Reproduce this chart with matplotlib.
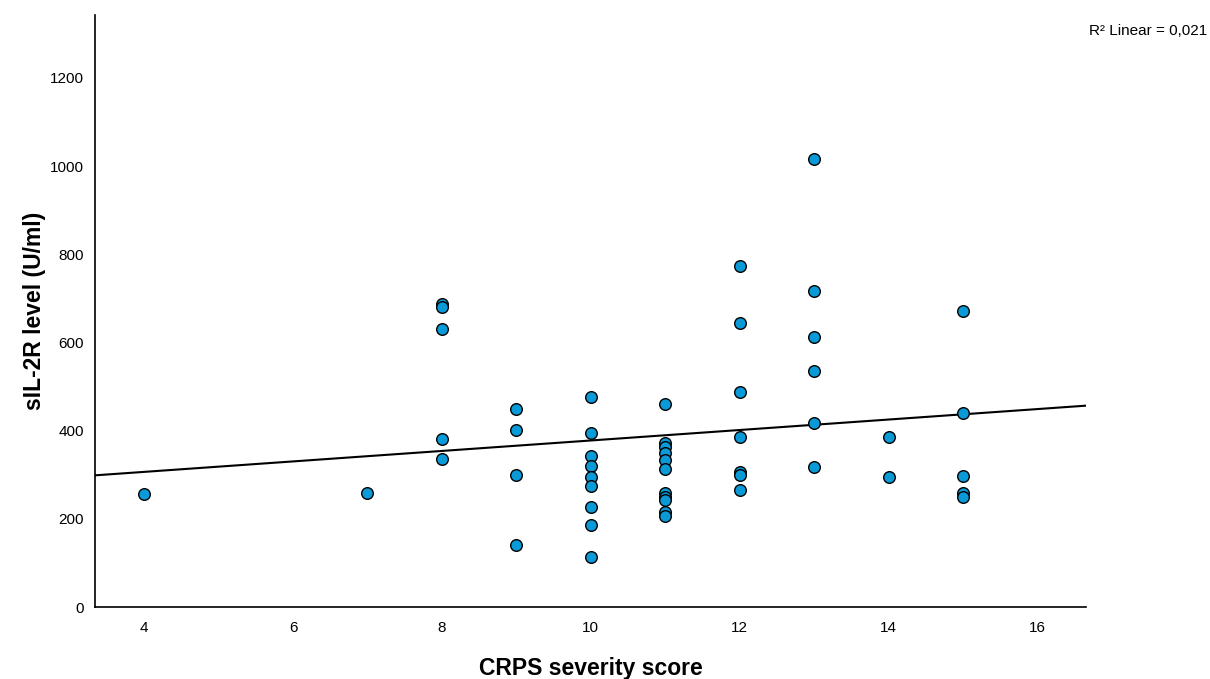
import numpy as np
import matplotlib
matplotlib.use('Agg')
import matplotlib.pyplot as plt

plt.rcParams['font.family'] = ['Liberation Sans', 'DejaVu Sans']

# CRPS severity score vs sIL-2R level
crps = [4, 7,
        8, 8, 8, 8, 8,
        9, 9, 9, 9,
        10, 10, 10, 10, 10, 10, 10, 10, 10,
        11, 11, 11, 11, 11, 11, 11, 11, 11, 11, 11,
        12, 12, 12, 12, 12, 12, 12,
        13, 13, 13, 13, 13, 13,
        14, 14,
        15, 15, 15, 15, 15]
sil2r = [256, 259,
         688, 680, 631, 381, 336,
         450, 402, 300, 141,
         477, 394, 343, 321, 296, 275, 226, 185, 114,
         460, 371, 364, 349, 333, 314, 258, 250, 243, 216, 206,
         774, 644, 488, 385, 307, 299, 265,
         1016, 716, 613, 536, 418, 318,
         386, 295,
         671, 441, 297, 259, 249]

xticks = [4, 6, 8, 10, 12, 14, 16]
yticks = [0, 200, 400, 600, 800, 1000, 1200]

x = np.array(crps, dtype=float)
y = np.array(sil2r, dtype=float)
slope, icpt = np.polyfit(x, y, 1)

fig = plt.figure(figsize=(12.1, 6.79), dpi=100)
ax = fig.add_axes([0.0785, 0.106, 0.819, 0.872])

xlim = (3.34, 16.65)
ax.plot(xlim, [icpt + slope * xlim[0], icpt + slope * xlim[1]],
        color='black', lw=1.5, zorder=2)
ax.scatter(x, y, s=70, color='#0b9ad8', edgecolors='black', linewidths=1.0, zorder=3)

ax.set_xlim(xlim)
ax.set_ylim(0, 1343)
ax.set_xticks(xticks)
ax.set_yticks(yticks)
ax.tick_params(length=0, labelsize=11, pad=10)
ax.tick_params(axis='y', pad=8)
for s in ['top', 'right']:
    ax.spines[s].set_visible(False)
for s in ['left', 'bottom']:
    ax.spines[s].set_linewidth(1.2)

ax.set_xlabel('CRPS severity score', fontsize=16.5, fontweight='bold', labelpad=16)
ax.set_ylabel('sIL-2R level (U/ml)', fontsize=16.5, fontweight='bold', labelpad=3)

fig.text(0.9, 0.955, 'R² Linear = 0,021', fontsize=11, ha='left', va='center')

fig.savefig('out.png', dpi=100)
